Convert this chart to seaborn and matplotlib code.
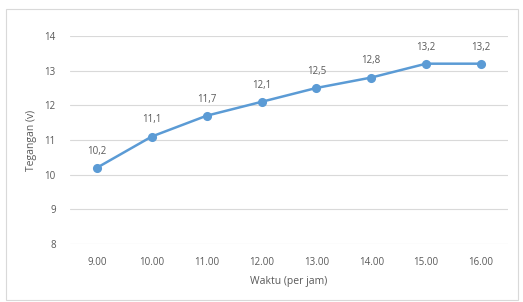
import matplotlib
matplotlib.use("Agg")
import matplotlib.pyplot as plt
import seaborn as sns
import pandas as pd
from matplotlib.patches import Rectangle

times = ["9.00", "10.00", "11.00", "12.00", "13.00", "14.00", "15.00", "16.00"]
voltages = [10.2, 11.1, 11.7, 12.1, 12.5, 12.8, 13.2, 13.2]
yticks = [8, 9, 10, 11, 12, 13, 14]

df = pd.DataFrame({"Waktu": times, "Tegangan": voltages})

sns.set_theme(style="white")
plt.rcParams["font.family"] = ["Open Sans", "DejaVu Sans"]

blue = "#5B9BD5"
txt = "#595959"
grid = "#D9D9D9"

fig = plt.figure(figsize=(5.23, 3.02), dpi=100)
ax = fig.add_axes([0.133, 0.192, 0.839, 0.689])

sns.pointplot(data=df, x="Waktu", y="Tegangan", color=blue, ax=ax,
              markers="o", linewidth=1.8, markersize=5.2)

ax.set_ylim(8, 14)
ax.set_yticks(yticks)
ax.set_xlim(-0.5, len(times) - 0.5)
ax.yaxis.grid(True, color=grid, linewidth=0.8)
ax.set_axisbelow(True)
for s in ax.spines.values():
    s.set_visible(False)
ax.tick_params(axis="both", length=0, labelsize=7, labelcolor=txt)
ax.tick_params(axis="x", pad=9)
ax.tick_params(axis="y", pad=10)

for i, v in enumerate(voltages):
    ax.annotate(f"{v:.1f}".replace(".", ","), (i, v), xytext=(0, 8),
                textcoords="offset points", ha="center", va="bottom",
                fontsize=7, color=txt)

ax.set_xlabel("Waktu (per jam)", fontsize=7.5, color=txt, labelpad=6)
ax.set_ylabel("Tegangan (v)", fontsize=7.5, color=txt, labelpad=5)

fig.patches.append(Rectangle((6 / 523, 2 / 302), 512 / 523, 291 / 302,
                             transform=fig.transFigure, fill=False,
                             edgecolor=grid, linewidth=0.8))

fig.savefig("out.png", dpi=100)
